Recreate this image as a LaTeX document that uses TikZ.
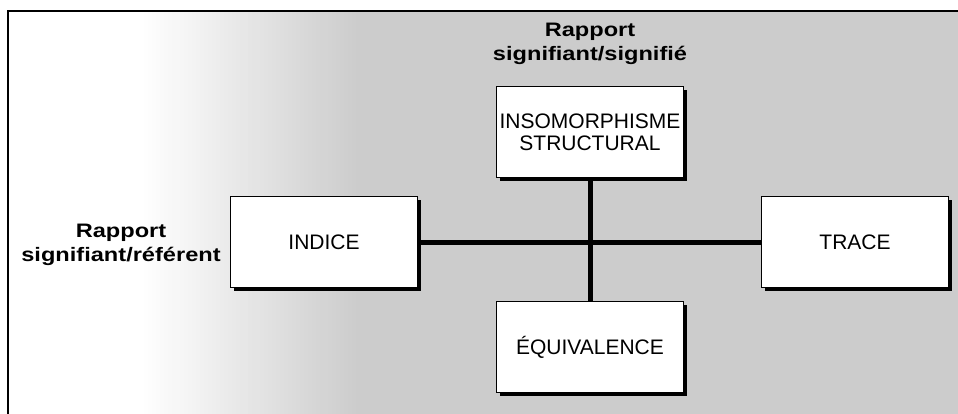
\documentclass[tikz,border=0pt]{standalone}
\usepackage{fontspec}
\setmainfont{Liberation Sans}
\newfontfamily\rapportfont{Liberation Sans Bold}[FakeStretch=1.21]
\usetikzlibrary{positioning,shadows}
\definecolor{fondgris}{gray}{0.8}

\begin{document}
\begin{tikzpicture}[x=1pt,y=-1pt,
  signbox/.style={draw, line width=1.3pt, fill=white, minimum width=187pt, minimum height=91pt,
    inner sep=0pt, align=center, font=\fontsize{21}{22}\selectfont,
    drop shadow={shadow xshift=3pt, shadow yshift=-3pt, fill=black, opacity=1}},
  rapport/.style={align=center, inner sep=0pt, font=\rapportfont\fontsize{19.5}{24}\selectfont},
  axe/.style={line width=5pt}]
  \useasboundingbox (0,0) rectangle (958,413);
  % fond: blanc a gauche, gris a droite
  \fill[fondgris] (358,11) rectangle (970,425);
  \foreach \i in {0,...,54} {
    \pgfmathsetmacro\p{100*\i/54}
    \fill[fondgris!\p!white] (140+4*\i,11) rectangle (144.5+4*\i,425);
  }
  \draw[line width=1.5pt] (8,425) -- (8,11) -- (970,11);

  \node[signbox] (struct) at (590,132) {INSOMORPHISME\\STRUCTURAL};
  \node[signbox] (indice) at (324,242) {INDICE};
  \node[signbox] (trace)  at (855,242) {TRACE};
  \node[signbox] (equiv)  at (590,347) {ÉQUIVALENCE};

  \draw[axe] (struct) -- (equiv);
  \draw[axe] (indice) -- (trace);

  % les deux rapports
  \node[rapport, above=21pt of struct] (rapsig) {Rapport\\signifiant/signifié};
  \node[rapport, left=9pt of indice, yshift=-3pt] (rapref) {Rapport\\signifiant/référent};
\end{tikzpicture}
\end{document}
